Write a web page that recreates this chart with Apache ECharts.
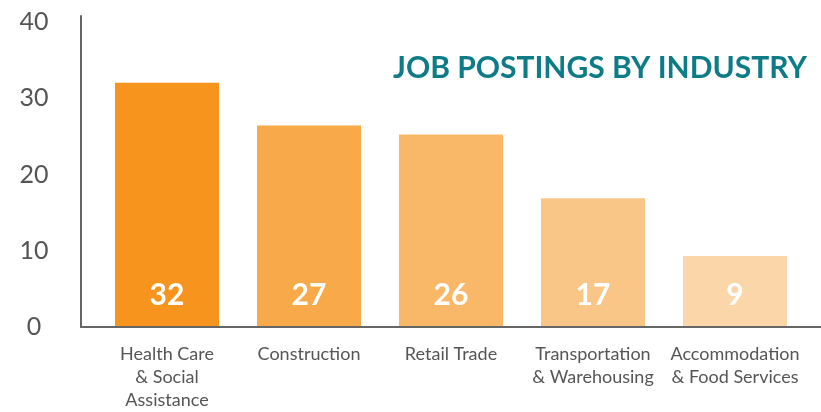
<!DOCTYPE html>
<html>
<head>
<meta charset="utf-8">
<script src="https://cdn.jsdelivr.net/npm/echarts@6/dist/echarts.min.js"></script>
<style>html,body{margin:0;padding:0;background:#fff}#c{width:821px;height:412px}</style>
</head>
<body>
<div id="c"></div>
<script>
var categories = ['Health Care\n& Social\nAssistance', 'Construction', 'Retail Trade', 'Transportation\n& Warehousing', 'Accommodation\n& Food Services'];
var values = [32, 26.4, 25.2, 16.8, 9.2];
var valueLabels = ['32', '27', '26', '17', '9'];
var barColors = ['#F7941E', '#F8A94A', '#F9B768', '#FAC688', '#FBD6A8'];
var yTicks = [0, 10, 20, 30, 40];
var titleText = 'JOB POSTINGS BY INDUSTRY';

var chart = echarts.init(document.getElementById('c'));
var font = 'Lato, "Open Sans", sans-serif';
chart.setOption({
  animation: false,
  title: {
    text: titleText, right: 9, top: 48,
    textStyle: { color: '#0E7C86', fontSize: 30, fontWeight: 'bold', fontFamily: font }
  },
  grid: [
    { left: 96, right: 15, top: 16, bottom: 85 },
    { left: 81, right: 0, top: 16, bottom: 85 }
  ],
  xAxis: [
    { type: 'category', gridIndex: 0, data: categories,
      axisLine: { show: false }, axisTick: { show: false },
      axisLabel: { color: '#555', fontSize: 18, lineHeight: 23, margin: 17, fontFamily: font, interval: 0 } },
    { type: 'category', gridIndex: 1, data: [''],
      axisLine: { show: true, lineStyle: { color: '#666', width: 2 } },
      axisTick: { show: false }, axisLabel: { show: false } }
  ],
  yAxis: [
    { type: 'value', gridIndex: 0, min: 0, max: 40.8, show: false, splitLine: { show: false } },
    { type: 'value', gridIndex: 1, min: 0, max: 40.8, interval: 10,
      axisLine: { show: true, lineStyle: { color: '#666', width: 2 } },
      axisTick: { show: false }, splitLine: { show: false },
      axisLabel: { color: '#555', fontSize: 25, margin: 47, align: 'center', fontFamily: font,
        formatter: function (v) { return yTicks.indexOf(v) >= 0 ? String(v) : ''; } } }
  ],
  series: [{
    type: 'bar', xAxisIndex: 0, yAxisIndex: 0, barWidth: 104,
    data: values.map(function (v, i) {
      return { value: v, itemStyle: { color: barColors[i] },
        label: { formatter: valueLabels[i] } };
    }),
    label: { show: true, position: 'insideBottom', distance: 16, color: '#fff',
      fontSize: 30, fontWeight: 'bold', fontFamily: font }
  }]
});
</script>
</body>
</html>
